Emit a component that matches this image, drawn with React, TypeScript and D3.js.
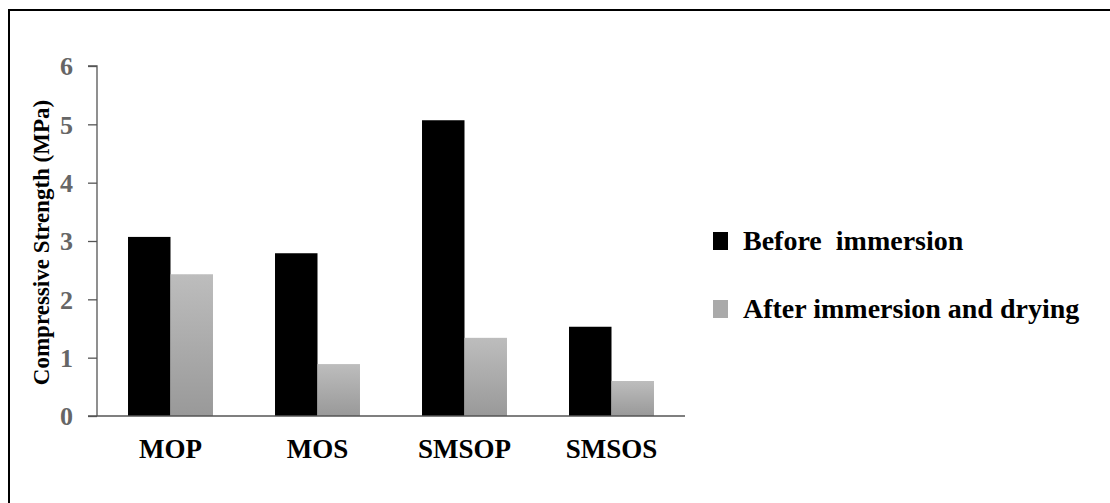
import { useEffect, useRef } from "react";
import * as d3 from "d3";

const categories = ["MOP", "MOS", "SMSOP", "SMSOS"];
const beforeValues = [3.07, 2.79, 5.07, 1.53];
const afterValues = [2.43, 0.89, 1.34, 0.6];
const seriesNames = ["Before  immersion", "After immersion and drying"];
const yTicks = [0, 1, 2, 3, 4, 5, 6];

const W = 1110;
const H = 503;
const FONT = "Liberation Serif, DejaVu Serif, serif";

export default function App() {
  const svgRef = useRef<SVGSVGElement | null>(null);

  useEffect(() => {
    if (!svgRef.current) return;
    const svg = d3.select(svgRef.current);
    svg.selectAll("*").remove();

    const left = 97;
    const right = 685;
    const top = 66;
    const bottom = 416;

    // frame (only top and left edges show)
    svg.append("path")
      .attr("d", `M9,${H} L9,10 L${W},10`)
      .attr("fill", "none")
      .attr("stroke", "#000")
      .attr("stroke-width", 2);

    const defs = svg.append("defs");
    const grad = defs.append("linearGradient")
      .attr("id", "grayGrad")
      .attr("x1", 0).attr("y1", 0).attr("x2", 0).attr("y2", 1);
    grad.append("stop").attr("offset", "0%").attr("stop-color", "#bdbdbd");
    grad.append("stop").attr("offset", "100%").attr("stop-color", "#999999");

    const x = d3.scaleBand<string>().domain(categories).range([left, right]).padding(0);
    const y = d3.scaleLinear().domain([0, 6]).range([bottom, top]);
    const groupW = x.bandwidth() * 0.578;
    const x1 = d3.scaleBand<number>().domain([0, 1]).range([0, groupW]).padding(0);

    // y axis
    const yAxis = svg.append("g").attr("transform", `translate(${left},0)`)
      .call(d3.axisLeft(y).tickValues(yTicks).tickSize(9).tickPadding(15).tickFormat(d3.format("d")));
    yAxis.select(".domain").attr("stroke", "#555").attr("stroke-width", 1.3).attr("d", `M-9,${top}H0V${bottom}`);
    yAxis.selectAll(".tick line").attr("stroke", "#555").attr("stroke-width", 1.3);
    yAxis.selectAll(".tick text")
      .attr("fill", "#666")
      .attr("dy", "0.34em")
      .style("font-family", FONT)
      .attr("font-weight", "bold")
      .attr("font-size", 26);

    // bars
    const groups = svg.append("g").selectAll("g")
      .data(categories)
      .join("g")
      .attr("transform", (d) => `translate(${(x(d) ?? 0) + (x.bandwidth() - groupW) / 2},0)`);

    groups.append("rect")
      .attr("x", x1(0) ?? 0)
      .attr("width", x1.bandwidth())
      .attr("y", (_, i) => y(beforeValues[i]))
      .attr("height", (_, i) => bottom - y(beforeValues[i]))
      .attr("fill", "#000");

    groups.append("rect")
      .attr("x", x1(1) ?? 0)
      .attr("width", x1.bandwidth())
      .attr("y", (_, i) => y(afterValues[i]))
      .attr("height", (_, i) => bottom - y(afterValues[i]))
      .attr("fill", "url(#grayGrad)");

    // x axis baseline
    svg.append("line")
      .attr("x1", left - 9).attr("x2", right)
      .attr("y1", bottom).attr("y2", bottom)
      .attr("stroke", "#555").attr("stroke-width", 1.3);

    // x labels
    svg.append("g").selectAll("text")
      .data(categories)
      .join("text")
      .attr("x", (d) => (x(d) ?? 0) + x.bandwidth() / 2)
      .attr("y", 458)
      .attr("text-anchor", "middle")
      .style("font-family", FONT)
      .attr("font-weight", "bold")
      .attr("font-size", 27)
      .attr("fill", "#000")
      .text((d) => d);

    // y title
    svg.append("text")
      .attr("transform", `translate(49,${(97 + 388) / 2}) rotate(-90)`)
      .attr("text-anchor", "middle")
      .style("font-family", FONT)
      .attr("font-weight", "bold")
      .attr("font-size", 23)
      .attr("fill", "#000")
      .text("Compressive Strength (MPa)");

    // legend
    const legendColors = ["#000", "#aaaaaa"];
    const legend = svg.append("g").selectAll("g")
      .data(seriesNames)
      .join("g")
      .attr("transform", (_, i) => `translate(713,${250 + i * 68})`);
    legend.append("rect")
      .attr("x", 0).attr("y", -18)
      .attr("width", 15).attr("height", 18)
      .attr("fill", (_, i) => legendColors[i]);
    legend.append("text")
      .attr("x", 30).attr("y", 0)
      .style("font-family", FONT)
      .attr("font-weight", "bold")
      .attr("font-size", 28)
      .attr("fill", "#000")
      .style("white-space", "pre")
      .text((d) => d);
  }, []);

  return (
    <div style={{ position: "absolute", left: 0, top: 0, width: W, height: H, background: "#fff" }}>
      <svg ref={svgRef} width={W} height={H} viewBox={`0 0 ${W} ${H}`} />
    </div>
  );
}
